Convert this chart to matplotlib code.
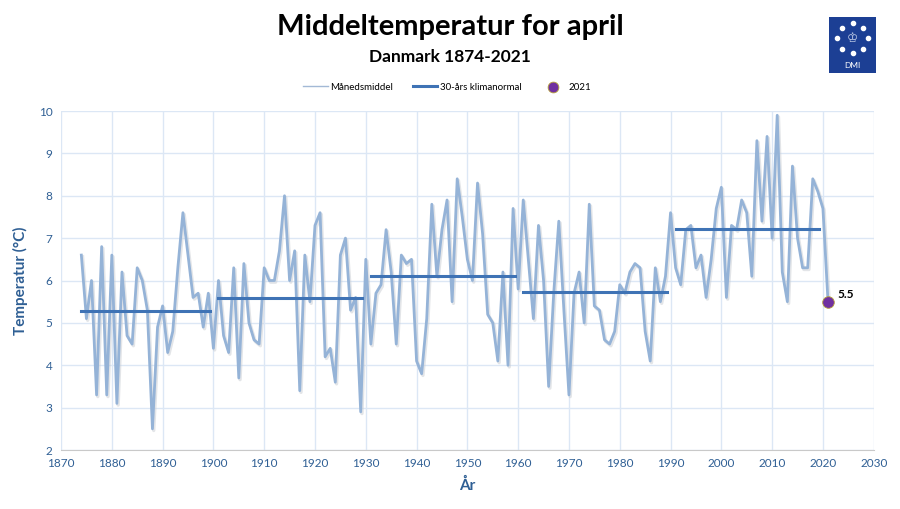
import matplotlib
matplotlib.use("Agg")
import matplotlib.pyplot as plt
from matplotlib.patches import Rectangle
import numpy as np

plt.rcParams['font.family'] = ['Lato', 'DejaVu Sans']

years = list(range(1874, 2022))
temps = [
    6.6, 5.1, 6.0, 3.3, 6.8, 3.3, 6.6, 3.1, 6.2, 4.7,   # 1874-1883
    4.5, 6.3, 6.0, 5.3, 2.5, 4.9, 5.4, 4.3, 4.8, 6.3,   # 1884-1893
    7.6, 6.6, 5.6, 5.7, 4.9, 5.7, 4.4, 6.0, 4.7, 4.3,   # 1894-1903
    6.3, 3.7, 6.4, 5.0, 4.6, 4.5, 6.3, 6.0, 6.0, 6.7,   # 1904-1913
    8.0, 6.0, 6.7, 3.4, 6.6, 5.5, 7.3, 7.6, 4.2, 4.4,   # 1914-1923
    3.6, 6.6, 7.0, 5.3, 5.6, 2.9, 6.5, 4.5, 5.7, 5.9,   # 1924-1933
    7.2, 6.2, 4.5, 6.6, 6.4, 6.5, 4.1, 3.8, 5.1, 7.8,   # 1934-1943
    6.1, 7.2, 7.9, 5.5, 8.4, 7.5, 6.5, 6.0, 8.3, 7.1,   # 1944-1953
    5.2, 5.0, 4.1, 6.2, 4.0, 7.7, 5.8, 7.9, 6.5, 5.1,   # 1954-1963
    7.3, 6.0, 3.5, 5.7, 7.4, 5.3, 3.3, 5.7, 6.2, 5.0,   # 1964-1973
    7.8, 5.4, 5.3, 4.6, 4.5, 4.8, 5.9, 5.7, 6.2, 6.4,   # 1974-1983
    6.3, 4.8, 4.1, 6.3, 5.5, 6.1, 7.6, 6.3, 5.9, 7.2,   # 1984-1993
    7.3, 6.3, 6.6, 5.6, 6.5, 7.7, 8.2, 5.6, 7.3, 7.2,   # 1994-2003
    7.9, 7.6, 6.1, 9.3, 7.4, 9.4, 7.0, 9.9, 6.2, 5.5,   # 2004-2013
    8.7, 7.0, 6.3, 6.3, 8.4, 8.1, 7.7, 5.5,             # 2014-2021
]

# 30-year normals: (start, end, value)
normal_start = [1874, 1901, 1931, 1961, 1991]
normal_end = [1899.3, 1929.3, 1959.3, 1989.3, 2019.3]
normal_value = [5.28, 5.59, 6.11, 5.73, 7.21]

last_year = 2021
last_value = 5.5

tick_color = '#2f5f94'
grid_color = '#dce7f5'

fig = plt.figure(figsize=(9, 5.09), dpi=100)
ax = fig.add_axes([0.0678, 0.1159, 0.903, 0.666])

# soft shadow under the monthly line
ax.plot(np.array(years) + 0.25, np.array(temps) - 0.04, color='#c8ccd2',
        lw=2.4, alpha=0.5, zorder=2, solid_joinstyle='round')
ax.plot(years, temps, color='#95b3d7', lw=2.0, zorder=3,
        solid_joinstyle='round', label='Månedsmiddel')

for i in range(len(normal_start)):
    ax.plot([normal_start[i], normal_end[i]], [normal_value[i]] * 2,
            color='#3f73b5', lw=2.2, zorder=4,
            label='30-års klimanormal' if i == 0 else None)

ax.scatter([last_year], [last_value], s=70, color='#7030a0',
           edgecolor='#b7a43a', linewidth=0.6, zorder=5, label='2021')
ax.annotate(f'{last_value}', (last_year, last_value), xytext=(7, 3),
            textcoords='offset points', fontsize=8.5, fontweight='bold',
            color='black')

ax.set_xlim(1870, 2030)
ax.set_ylim(2, 10)
ax.set_xticks(range(1870, 2031, 10))
ax.set_yticks(range(2, 11))
ax.grid(True, color=grid_color, lw=1)
ax.set_axisbelow(True)
for s in ['top', 'right', 'left']:
    ax.spines[s].set_visible(False)
ax.spines['bottom'].set_color('#c9c9c9')
ax.tick_params(axis='both', length=0, labelsize=8.5, labelcolor=tick_color,
               pad=6)

ax.set_xlabel('År', fontsize=11, fontweight='bold', color=tick_color,
              labelpad=6)
ax.set_ylabel('Temperatur (°C)', fontsize=11, fontweight='bold',
              color=tick_color, labelpad=8)

fig.text(0.5, 0.947, 'Middeltemperatur for april', ha='center', va='center',
         fontsize=21, fontweight='bold', color='black')
fig.text(0.5, 0.888, 'Danmark 1874-2021', ha='center', va='center',
         fontsize=12.5, fontweight='bold', color='black')

leg = fig.legend(loc='center', bbox_to_anchor=(0.497, 0.829), ncol=3,
                 frameon=False, fontsize=7, handlelength=2.5,
                 columnspacing=2.0, handletextpad=0.3)
leg.legend_handles[2].set_sizes([60])
leg.legend_handles[0].set_linewidth(1)
leg.legend_handles[0].set_color('#a3b9d6')

# DMI logo
lx, ly, lw_, lh = 829 / 900, 1 - 73 / 509, 47 / 900, 56 / 509
fig.patches.append(Rectangle((lx, ly), lw_, lh, transform=fig.transFigure,
                             facecolor='#1c3f94', edgecolor='none'))
cx, cy = lx + lw_ / 2, ly + lh * 0.62
ang = np.linspace(0, 2 * np.pi, 9)[:-1] + np.pi / 2
rx, ry = 15 / 900, 15 / 509
fig.lines.append(plt.Line2D(cx + rx * np.cos(ang), cy + ry * np.sin(ang),
                            transform=fig.transFigure, ls='none',
                            marker='o', ms=3, color='white'))
fig.text(cx, cy, '\u2654', ha='center', va='center', fontsize=9,
         color='#c8d3ea', family='DejaVu Sans')
fig.text(cx, ly + lh * 0.13, 'DMI', ha='center', va='center', fontsize=6,
         color='white')

fig.savefig('out.png', dpi=100)
